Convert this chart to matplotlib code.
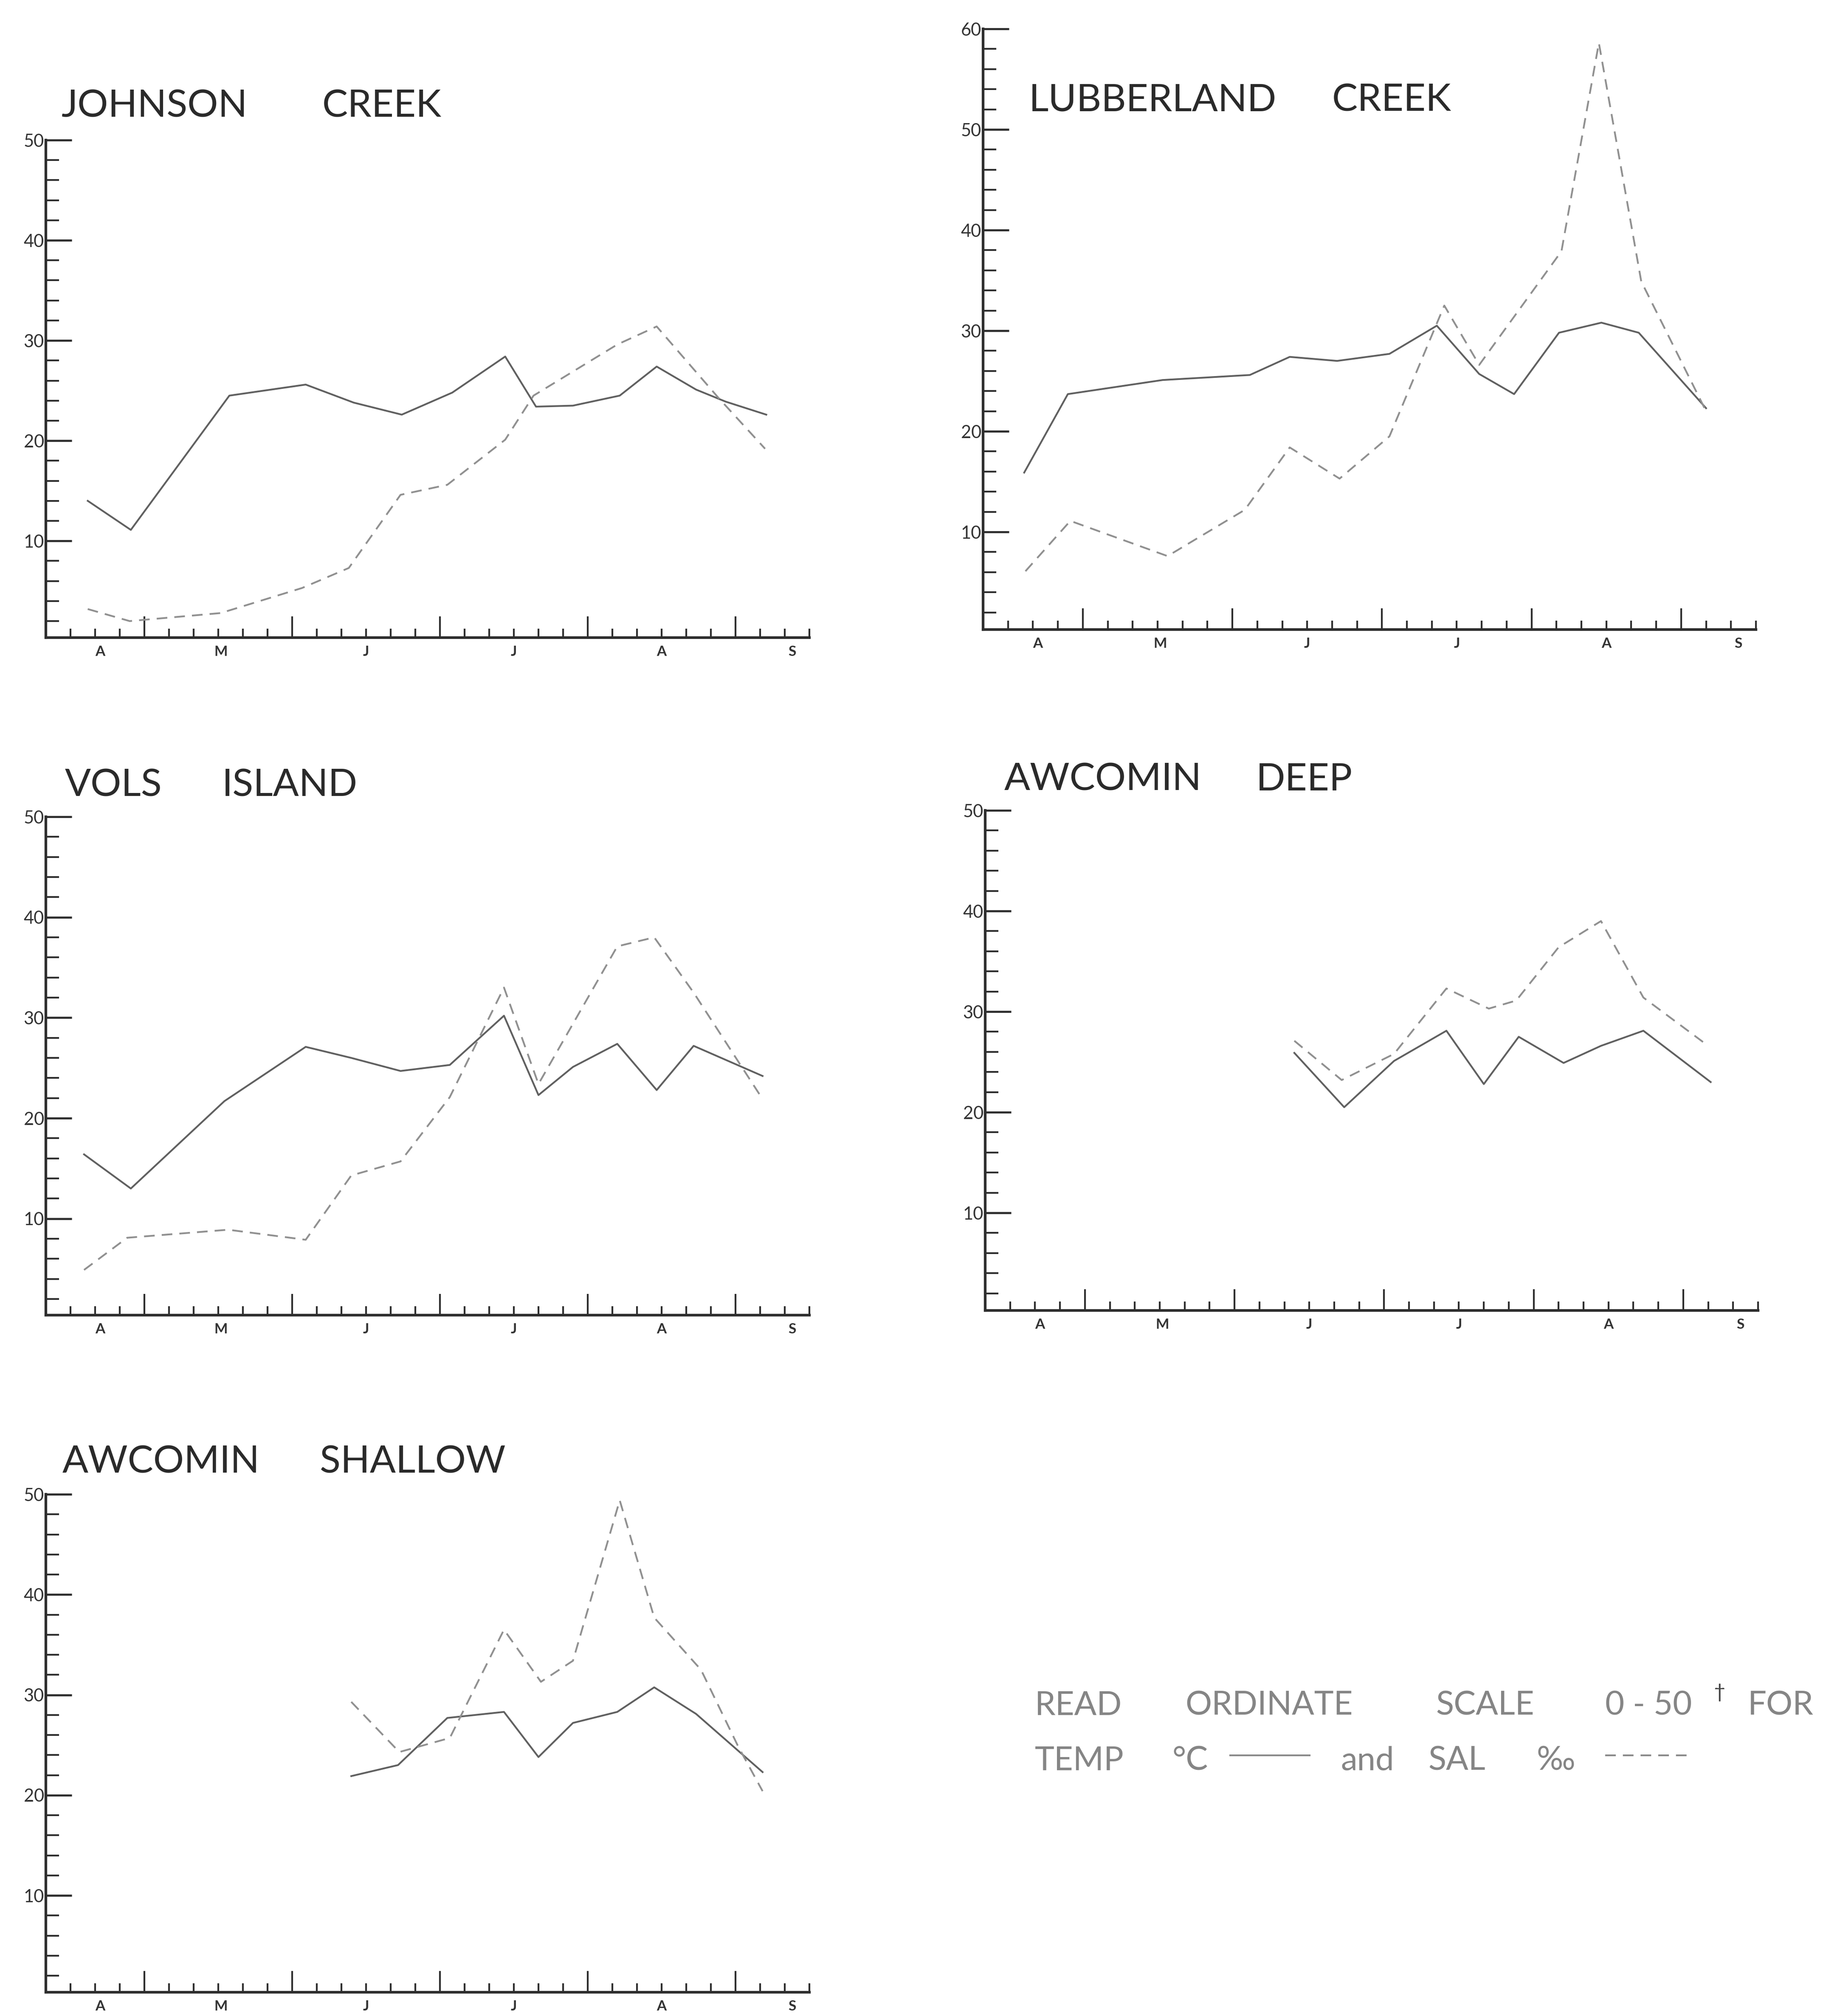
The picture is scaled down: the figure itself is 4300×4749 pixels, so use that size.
import matplotlib.pyplot as plt
from matplotlib.lines import Line2D

# --- data: x in week-tick units along the axis (0 = y axis), y in degC / per mille ---
month_labels = ["A", "M", "J", "J", "A", "S"]
month_pos = [2.2, 7.1, 13.0, 19.0, 25.0, 30.3]

johnson_temp_x = [1.7, 3.45, 7.45, 10.55, 12.5, 14.45, 16.5, 18.65, 19.9, 21.4, 23.3, 24.8, 26.4, 27.6, 29.25]
johnson_temp = [14.0, 11.1, 24.5, 25.6, 23.8, 22.6, 24.8, 28.4, 23.4, 23.5, 24.5, 27.4, 25.1, 23.9, 22.6]
johnson_sal_x = [1.7, 3.4, 7.1, 10.4, 12.3, 14.4, 16.3, 18.65, 19.8, 23.2, 24.8, 27.3, 29.2]
johnson_sal = [3.2, 2.0, 2.8, 5.3, 7.3, 14.6, 15.6, 20.1, 24.5, 29.6, 31.4, 24.3, 19.2]

lubber_temp_x = [1.65, 3.4, 7.2, 10.7, 12.3, 14.2, 16.3, 18.2, 19.9, 21.3, 23.1, 24.8, 26.3, 29.0]
lubber_temp = [15.9, 23.7, 25.1, 25.6, 27.4, 27.0, 27.7, 30.5, 25.7, 23.7, 29.8, 30.8, 29.8, 22.3]
lubber_sal_x = [1.7, 3.5, 7.4, 10.5, 12.3, 14.3, 16.3, 18.5, 19.9, 23.2, 24.7, 26.4, 29.0]
lubber_sal = [6.1, 11.1, 7.6, 12.2, 18.4, 15.3, 19.5, 32.5, 26.6, 37.9, 58.6, 34.9, 22.0]

vols_temp_x = [1.55, 3.45, 7.25, 10.55, 12.4, 14.4, 16.4, 18.6, 20.0, 21.4, 23.2, 24.8, 26.3, 29.1]
vols_temp = [16.4, 13.0, 21.7, 27.1, 26.0, 24.7, 25.3, 30.2, 22.3, 25.1, 27.4, 22.8, 27.2, 24.2]
vols_sal_x = [1.55, 3.3, 7.4, 10.55, 12.4, 14.4, 16.4, 18.6, 20.0, 23.2, 24.7, 26.3, 29.1]
vols_sal = [4.9, 8.1, 8.9, 7.9, 14.3, 15.7, 22.1, 33.0, 23.4, 37.1, 38.0, 32.5, 21.9]

deep_temp_x = [12.4, 14.4, 16.4, 18.5, 20.0, 21.4, 23.2, 24.7, 26.4, 29.1]
deep_temp = [25.9, 20.5, 25.1, 28.1, 22.8, 27.5, 24.9, 26.6, 28.1, 23.0]
deep_sal_x = [12.4, 14.3, 16.4, 18.5, 20.2, 21.3, 23.0, 24.7, 26.4, 29.0]
deep_sal = [27.1, 23.2, 25.8, 32.3, 30.3, 31.1, 36.4, 39.0, 31.4, 26.6]

shallow_temp_x = [12.4, 14.3, 16.3, 18.6, 20.0, 21.4, 23.2, 24.7, 26.4, 29.1]
shallow_temp = [21.9, 23.0, 27.7, 28.3, 23.8, 27.2, 28.3, 30.75, 28.1, 22.3]
shallow_sal_x = [12.4, 14.35, 16.4, 18.6, 20.1, 21.4, 23.3, 24.7, 26.6, 28.1, 29.1]
shallow_sal = [29.3, 24.3, 25.7, 36.5, 31.3, 33.4, 49.4, 37.7, 32.5, 24.9, 20.4]

W, H = 4300, 4749
fig = plt.figure(figsize=(W / 100, H / 100), dpi=100)
fig.patch.set_facecolor("white")

FONT = "Lato"
AXC = "#2e2e2e"
TEMPC = "#606060"
SALC = "#909090"


def fx(px):
    return px / W


def fy(py):
    return 1 - py / H


def panel(left, right, top, bottom, ymin, ymax, title1, title2, t1x, t2x, ty, temp_x, temp, sal_x, sal):
    ax = fig.add_axes([fx(left), fy(bottom), (right - left) / W, (bottom - top) / H])
    ax.set_xlim(0, 31)
    ax.set_ylim(ymin, ymax)
    for s in ["top", "right"]:
        ax.spines[s].set_visible(False)
    for s in ["left", "bottom"]:
        ax.spines[s].set_linewidth(4.5)
        ax.spines[s].set_color(AXC)
    ax.spines["left"].set_bounds(ymin, ymax)

    # y ticks: major every 10, minor every 2, drawn inward
    ax.set_yticks(range(10, ymax + 1, 10))
    ax.set_yticks([v for v in range(2, ymax, 2) if v % 10], minor=True)
    ax.tick_params(axis="y", which="major", direction="in", length=44, width=3.5,
                   color=AXC, labelsize=30, labelcolor="#333333", pad=3)
    ax.tick_params(axis="y", which="minor", direction="in", length=22, width=3, color=AXC)
    for lab in ax.get_yticklabels():
        lab.set_fontfamily(FONT)

    # x axis: small weekly ticks pointing up, longer ones every six
    long_ticks = [4, 10, 16, 22, 28]
    ax.set_xticks(long_ticks)
    ax.set_xticks([k for k in range(1, 32) if k not in long_ticks], minor=True)
    ax.tick_params(axis="x", which="major", direction="in", length=36, width=3,
                   color=AXC, labelbottom=False)
    ax.tick_params(axis="x", which="minor", direction="in", length=15, width=3, color=AXC)
    for m, p in zip(month_labels, month_pos):
        ax.annotate(m, (p, 0), xycoords=("data", "axes fraction"), xytext=(0, -14),
                    textcoords="offset points", ha="center", va="top",
                    fontsize=24, fontweight="bold", family=FONT, color="#333333")

    ax.plot(temp_x, temp, color=TEMPC, lw=3.0, clip_on=False)
    ax.plot(sal_x, sal, color=SALC, lw=3.0, dashes=(6, 4), clip_on=False)

    fig.text(fx(t1x), fy(ty), title1, fontsize=65, family=FONT, color="#2a2a2a", va="baseline")
    fig.text(fx(t2x), fy(ty), title2, fontsize=65, family=FONT, color="#2a2a2a", va="baseline")
    return ax


panel(108, 1906, 330, 1502, 0.35, 50, "JOHNSON", "CREEK", 145, 759, 275,
      johnson_temp_x, johnson_temp, johnson_sal_x, johnson_sal)
panel(2315, 4135, 68, 1483, 0.3, 60, "LUBBERLAND", "CREEK", 2423, 3137, 262,
      lubber_temp_x, lubber_temp, lubber_sal_x, lubber_sal)
panel(108, 1906, 1924, 3098, 0.4, 50, "VOLS", "ISLAND", 153, 523, 1875,
      vols_temp_x, vols_temp, vols_sal_x, vols_sal)
panel(2320, 4140, 1909, 3087, 0.3, 50, "AWCOMIN", "DEEP", 2365, 2958, 1862,
      deep_temp_x, deep_temp, deep_sal_x, deep_sal)
panel(108, 1906, 3520, 4693, 0.35, 50, "AWCOMIN", "SHALLOW", 147, 753, 3470,
      shallow_temp_x, shallow_temp, shallow_sal_x, shallow_sal)

# note on the ordinate scale
NOTEC = "#858585"
note = dict(fontsize=56, family=FONT, color=NOTEC, va="baseline")
for word, px in [("READ", 2437), ("ORDINATE", 2791), ("SCALE", 3382), ("0 - 50", 3780), ("FOR", 4116)]:
    fig.text(fx(px), fy(4040), word, **note)
fig.text(fx(4035), fy(4000), "\u2020", fontsize=34, family=FONT, color="#444444", va="baseline")
for word, px in [("TEMP", 2437), ("\u00b0C", 2760), ("and", 3158), ("SAL", 3364), ("\u2030", 3619)]:
    fig.text(fx(px), fy(4170), word, **note)
fig.add_artist(Line2D([fx(2897), fx(3084)], [fy(4135), fy(4135)], color="#8a8a8a", lw=3))
fig.add_artist(Line2D([fx(3780), fx(3979)], [fy(4135), fy(4135)], color="#8a8a8a", lw=3, dashes=(6, 4)))

fig.savefig("out.png", dpi=100, facecolor="white")
